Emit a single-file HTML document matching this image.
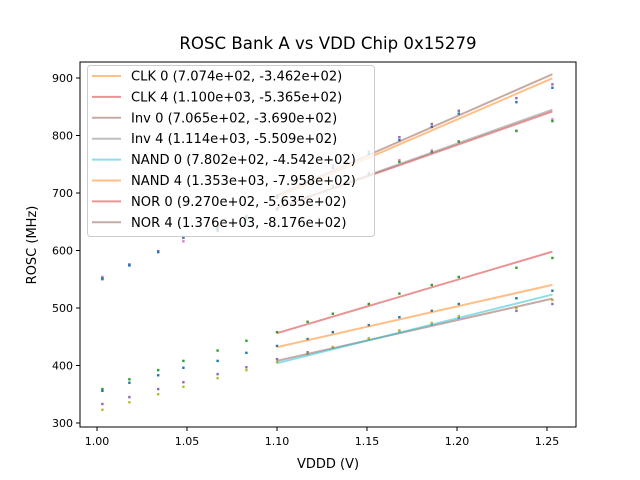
<!DOCTYPE html>
<html><head><meta charset="utf-8"><style>
html,body{margin:0;padding:0;background:#fff}
svg{display:block;font-family:"DejaVu Sans","Liberation Sans",sans-serif}
</style></head><body>
<svg id="chart" width="640" height="480" viewBox="0 0 640 480" xmlns="http://www.w3.org/2000/svg">
<rect width="640" height="480" fill="#fff"/>
<text x="328" y="49" font-size="16.6" text-anchor="middle">ROSC Bank A vs VDD Chip 0x15279</text>
<text x="328" y="468" font-size="13" text-anchor="middle">VDDD (V)</text>
<text transform="translate(36,245) rotate(-90)" font-size="13" text-anchor="middle">ROSC (MHz)</text>
<g id="marks"></g>
<g id="axes"></g>
<g id="legend"></g>
</svg>
<script>
const xVals=[1.003,1.018,1.034,1.048,1.067,1.083,1.1,1.117,1.131,1.151,1.168,1.186,1.201,1.233,1.253];
const greenLow=[359,376,392,408,426,443,458,476,490,507,525,540,554,570,587];
const blueLow=[356,370,383,396,408,422,434,446,458,470,484,495,507,517,530];
const purpleLow=[333,345,359,371,385,397,411,423,432,447,460,472,483,495,507];
const oliveLow=[323,336,350,363,378,392,406,420,432,447,461,474,486,500,514];
const pinkHigh=[554,576,599,616,636,655,673,694,713,735,757,774,790,808,828];
const greenHigh=[552,575,598,623,634,653,671,692,711,732,754,771,789,808,825];
const purpleHigh=[550,575,597,622,640,660,695,722,748,772,797,820,843,865,889];
const blueHigh=[551,574,598,624,638,658,692,718,744,768,792,815,838,858,883];
const fitNames=["CLK 0","CLK 4","Inv 0","Inv 4","NAND 0","NAND 4","NOR 0","NOR 4"];
const fitSlopes=[707.4,1100.0,706.5,1114.0,780.2,1353.0,927.0,1376.0];
const fitIntercepts=[-346.2,-536.5,-369.0,-550.9,-454.2,-795.8,-563.5,-817.6];
const fitLabels=["(7.074e+02, -3.462e+02)","(1.100e+03, -5.365e+02)","(7.065e+02, -3.690e+02)","(1.114e+03, -5.509e+02)","(7.802e+02, -4.542e+02)","(1.353e+03, -7.958e+02)","(9.270e+02, -5.635e+02)","(1.376e+03, -8.176e+02)"];
const fitColors=["#ff7f0e","#d62728","#8c564b","#7f7f7f","#17becf","#ff7f0e","#d62728","#8c564b"];
const xTicks=[1.00,1.05,1.10,1.15,1.20,1.25];
const xTickLabels=["1.00","1.05","1.10","1.15","1.20","1.25"];
const yTicks=[300,400,500,600,700,800,900];
const fitRange=[1.1,1.253];

const NS="http://www.w3.org/2000/svg";
const L=80,R=576,T=62,B=427;
function sx(v){return 97+(v-1.0)*1800;}
function sy(v){return 78+(900-v)*0.575;}
function mk(tag,attrs,parent){const e=document.createElementNS(NS,tag);for(const k in attrs)e.setAttribute(k,attrs[k]);parent.appendChild(e);return e;}
const marks=document.getElementById('marks'),axes=document.getElementById('axes'),leg=document.getElementById('legend');

const pointSeries=[[greenLow,"#2ca02c"],[blueLow,"#1f77b4"],[purpleLow,"#9467bd"],[oliveLow,"#bcbd22"],[pinkHigh,"#e377c2"],[greenHigh,"#2ca02c"],[purpleHigh,"#9467bd"],[blueHigh,"#1f77b4"]];
pointSeries.forEach((s,si)=>{
  s[0].forEach((v,i)=>{
    const c=mk('rect',{x:sx(xVals[i])-1.2,y:sy(v)-1.2,width:2.4,height:2.4,fill:s[1]},marks);
    
    
  });
});
fitSlopes.forEach((a,i)=>{
  const b=fitIntercepts[i];
  const ln=mk('line',{x1:sx(fitRange[0]),y1:sy(a*fitRange[0]+b),x2:sx(fitRange[1]),y2:sy(a*fitRange[1]+b),stroke:fitColors[i],'stroke-opacity':0.5,'stroke-width':2},marks);
  
  
});
const frame=mk('rect',{x:L,y:T,width:R-L,height:B-T,fill:'none',stroke:'#000','stroke-width':1},axes);


xTicks.forEach((t,i)=>{
  mk('line',{x1:sx(t),x2:sx(t),y1:B,y2:B+4,stroke:'#000'},axes);
  const tx=mk('text',{x:sx(t),y:B+18,'font-size':11,'text-anchor':'middle'},axes);
  tx.textContent=xTickLabels[i];
  
  
});
yTicks.forEach(t=>{
  mk('line',{x1:L-4,x2:L,y1:sy(t),y2:sy(t),stroke:'#000'},axes);
  const tx=mk('text',{x:L-7,y:sy(t)+4,'font-size':11,'text-anchor':'end'},axes);
  tx.textContent=String(t);
  
  
});
const box=mk('rect',{x:87.5,y:65.5,width:287,height:171,rx:3,fill:'#fff','fill-opacity':0.8,stroke:'#ccc'},leg);


fitNames.forEach((n,i)=>{
  const y=76+i*20.9;
  mk('line',{x1:92,x2:121,y1:y,y2:y,stroke:fitColors[i],'stroke-opacity':0.5,'stroke-width':2},leg);
  const tx=mk('text',{x:131,y:y+4.5,'font-size':13.1},leg);
  tx.textContent=n+' '+fitLabels[i];
  
  
});
</script>
</body></html>
